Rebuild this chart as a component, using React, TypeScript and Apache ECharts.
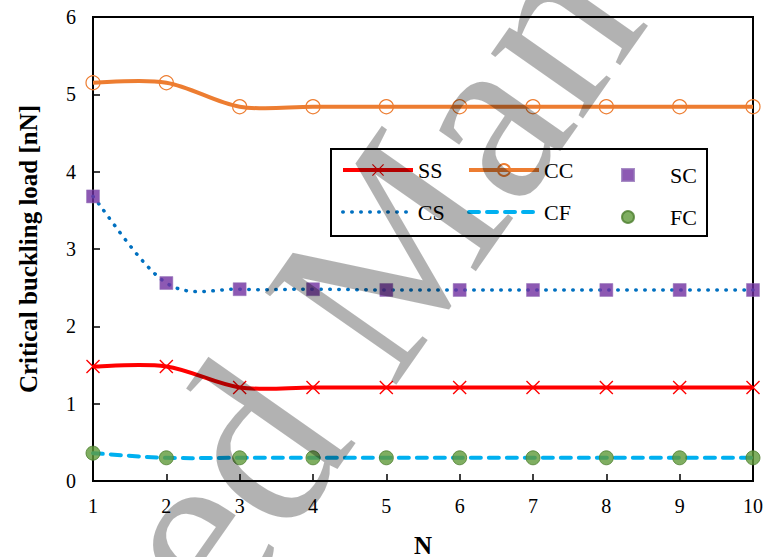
import React, { useEffect, useRef } from "react";
import * as echarts from "echarts";

const nValues = [1, 2, 3, 4, 5, 6, 7, 8, 9, 10];
const ssValues = [1.48, 1.48, 1.21, 1.21, 1.21, 1.21, 1.21, 1.21, 1.21, 1.21];
const ccValues = [5.15, 5.15, 4.84, 4.84, 4.84, 4.84, 4.84, 4.84, 4.84, 4.84];
const scValues = [3.68, 2.56, 2.48, 2.48, 2.47, 2.47, 2.47, 2.47, 2.47, 2.47];
const csValues = [3.68, 2.56, 2.48, 2.48, 2.47, 2.47, 2.47, 2.47, 2.47, 2.47];
const cfValues = [0.36, 0.3, 0.3, 0.3, 0.3, 0.3, 0.3, 0.3, 0.3, 0.3];
const fcValues = [0.36, 0.3, 0.3, 0.3, 0.3, 0.3, 0.3, 0.3, 0.3, 0.3];
const yTicks = [0, 1, 2, 3, 4, 5, 6];

const FONT = "'Liberation Serif', 'Times New Roman', serif";
const X_MARK = "path://M0,0.7L0.7,0L5,4.3L9.3,0L10,0.7L5.7,5L10,9.3L9.3,10L5,5.7L0.7,10L0,9.3L4.3,5Z";

const pair = (vals: number[]) => nValues.map((n, i) => [n, vals[i]]);

// Excel-like smoothed curve drawn through the axis scales (Catmull-Rom -> Bezier)
const curveSeries = (name: string, vals: number[], style: any) => ({
  name, type: "custom", data: pair(vals), z: 2,
  encode: { x: 0, y: 1 },
  renderItem: (params: any, api: any) => {
    if (params.dataIndex !== 0) return null;
    const pts = nValues.map((n, i) => api.coord([n, vals[i]]));
    let d = `M${pts[0][0]},${pts[0][1]}`;
    for (let i = 0; i < pts.length - 1; i++) {
      const p0 = pts[i - 1] || pts[i];
      const p1 = pts[i];
      const p2 = pts[i + 1];
      const p3 = pts[i + 2] || pts[i + 1];
      const c1x = p1[0] + (p2[0] - p0[0]) / 6;
      const c1y = p1[1] + (p2[1] - p0[1]) / 6;
      const c2x = p2[0] - (p3[0] - p1[0]) / 6;
      const c2y = p2[1] - (p3[1] - p1[1]) / 6;
      d += `C${c1x},${c1y},${c2x},${c2y},${p2[0]},${p2[1]}`;
    }
    return { type: "path", shape: { pathData: d }, style: { fill: "none", ...style } };
  },
});

export default function App() {
  const ref = useRef<HTMLDivElement>(null);
  useEffect(() => {
    if (!ref.current) return;
    const chart = echarts.init(ref.current, undefined, { renderer: "svg" });
    const legendText = { fontFamily: FONT, fontSize: 22, color: "#000", lineHeight: 22 };
    const lineLegend = (name: string, left: number, top: number, lineStyle: any, hideSymbol = false) => ({
      data: [name], left, top, padding: 0, itemWidth: 70, itemHeight: 15,
      textStyle: legendText, selectedMode: false,
      lineStyle: { opacity: 1, ...lineStyle },
      ...(hideSymbol ? { itemStyle: { opacity: 0 } } : {}),
    });
    const markLegend = (name: string, left: number, top: number) => ({
      data: [name], left, top, padding: 0, itemWidth: 12, itemHeight: 12,
      textStyle: { ...legendText, padding: [0, 0, 0, 31] }, selectedMode: false,
    });
    chart.setOption({
      animation: false,
      backgroundColor: "#fff",
      textStyle: { fontFamily: FONT },
      grid: {
        left: 93, right: 12, top: 17, bottom: 76, show: true, borderColor: "#000", borderWidth: 2,
        outerBoundsMode: "none", containLabel: false,
      },
      legend: [
        lineLegend("SS", 341, 159, { color: "#FF0000", width: 4, type: "solid" }),
        lineLegend("CC", 467, 159, { color: "#ED7D31", width: 4, type: "solid" }),
        markLegend("SC", 621, 159 + 5),
        lineLegend("CS", 341, 201, { color: "#0070C0", width: 3.5, type: [0.5, 8.5], cap: "round" }, true),
        lineLegend("CF", 467, 201, { color: "#00B0F0", width: 4, type: [10, 8], cap: "round" }, true),
        markLegend("FC", 621, 201 + 5),
      ],
      xAxis: {
        type: "value", min: 1, max: 10, interval: 1,
        name: "N", nameLocation: "middle", nameGap: 53,
        nameTextStyle: { fontFamily: FONT, fontSize: 25, fontWeight: "bold", color: "#000", lineHeight: 22 },
        axisLine: { lineStyle: { color: "#000", width: 2 } },
        axisTick: { inside: true, length: 7, lineStyle: { color: "#000", width: 1.5 } },
        axisLabel: { fontFamily: FONT, fontSize: 20, color: "#000", margin: 15 },
        splitLine: { show: false },
      },
      yAxis: {
        type: "value", min: yTicks[0], max: yTicks[yTicks.length - 1], interval: 1,
        name: "Critical buckling load [nN]", nameLocation: "middle", nameGap: 52,
        nameTextStyle: { fontFamily: FONT, fontSize: 25, fontWeight: "bold", color: "#000" },
        axisLine: { lineStyle: { color: "#000", width: 2 } },
        axisTick: { inside: true, length: 7, lineStyle: { color: "#000", width: 1.5 } },
        axisLabel: { fontFamily: FONT, fontSize: 20, color: "#000", margin: 17 },
        splitLine: { show: false },
      },
      series: [
        curveSeries("SS curve", ssValues, { stroke: "#FF0000", lineWidth: 4 }),
        curveSeries("CC curve", ccValues, { stroke: "#ED7D31", lineWidth: 4 }),
        curveSeries("CS curve", csValues, { stroke: "#0070C0", lineWidth: 3.5, lineDash: [0.5, 8.5], lineCap: "round" }),
        curveSeries("CF curve", cfValues, { stroke: "#00B0F0", lineWidth: 4, lineDash: [10, 8], lineCap: "round" }),
        {
          name: "SS", type: "line", data: pair(ssValues), color: "#FF0000",
          lineStyle: { color: "#FF0000", width: 4, opacity: 0 },
          symbol: X_MARK, symbolSize: 14, itemStyle: { color: "#FF0000" }, z: 3,
        },
        {
          name: "CC", type: "line", data: pair(ccValues), color: "#ED7D31",
          lineStyle: { color: "#ED7D31", width: 4, opacity: 0 },
          symbol: "circle", symbolSize: 14,
          itemStyle: { color: "rgba(255,255,255,0)", borderColor: "#ED7D31", borderWidth: 1.2 }, z: 3,
        },
        {
          name: "CS", type: "line", data: pair(csValues), color: "#0070C0",
          lineStyle: { color: "#0070C0", width: 3.5, opacity: 0 }, symbol: "none", z: 2,
        },
        {
          name: "CF", type: "line", data: pair(cfValues), color: "#00B0F0",
          lineStyle: { color: "#00B0F0", width: 4, opacity: 0 }, symbol: "none", z: 2,
        },
        {
          name: "SC", type: "scatter", data: pair(scValues), symbol: "rect", symbolSize: 13,
          itemStyle: { color: "#7030A0", borderColor: "#9471B8", borderWidth: 0.6 }, z: 4,
        },
        {
          name: "FC", type: "scatter", data: pair(fcValues), symbol: "circle", symbolSize: 14,
          itemStyle: { color: "#5F9A3A", borderColor: "#4C7E2E", borderWidth: 1 }, z: 4,
        },
      ],
      graphic: [
        {
          type: "rect", z: 1, shape: { x: 331, y: 149, width: 376, height: 87 },
          style: { fill: "none", stroke: "#000", lineWidth: 2 },
        },
        {
          type: "text", z: 100, x: 362, y: 290, rotation: (55 * Math.PI) / 180,
          style: {
            text: "Accepted Manuscript", font: `245px ${FONT}`,
            fill: "rgba(0,0,0,0.3)", align: "center", verticalAlign: "middle",
          },
        },
      ],
    });
    return () => chart.dispose();
  }, []);
  return <div ref={ref} style={{ position: "absolute", left: 0, top: 0, width: 765, height: 557 }} />;
}
